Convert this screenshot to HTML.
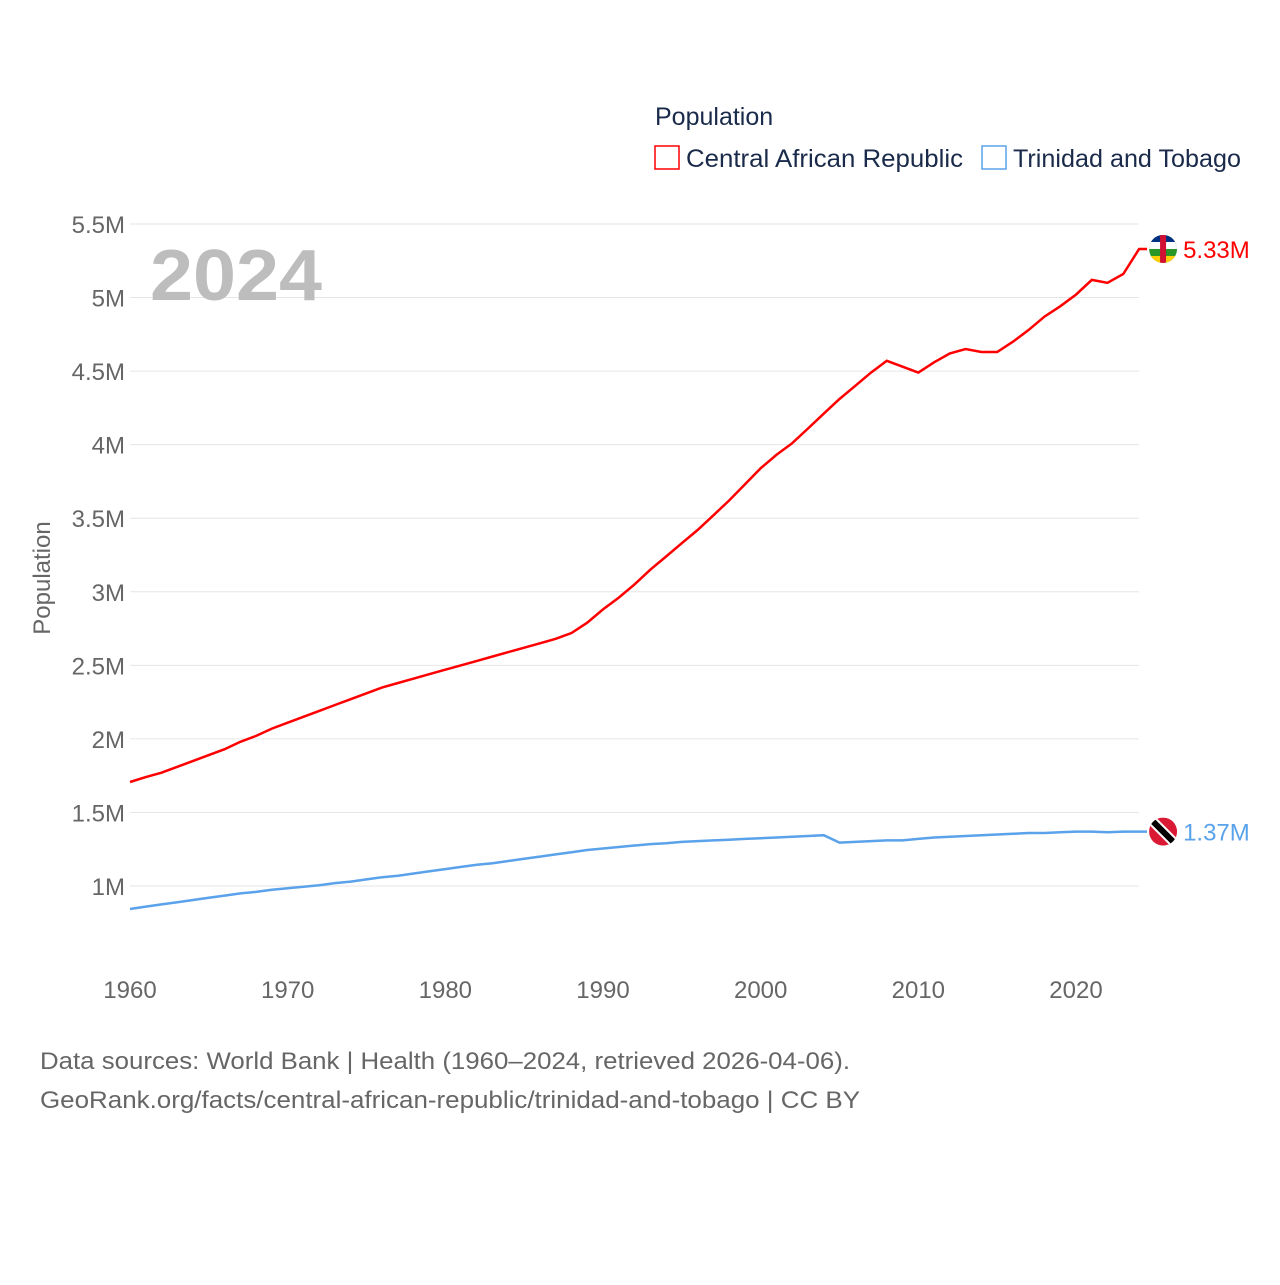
<!DOCTYPE html>
<html><head><meta charset="utf-8"><style>
body{margin:0;background:#fff;}
svg text{font-family:"Liberation Sans",sans-serif;}
</style></head><body>
<svg id="chart" width="1280" height="1280" xmlns="http://www.w3.org/2000/svg">
<rect width="1280" height="1280" fill="#fff"/>
<g id="grid"></g>
<text x="150" y="300" font-size="72" font-weight="bold" fill="#bdbdbd" textLength="172" lengthAdjust="spacingAndGlyphs">2024</text>
<g id="yticks"></g>
<g id="xticks"></g>
<text transform="translate(50,578) rotate(-90)" text-anchor="middle" font-size="24" fill="#666">Population</text>
<text x="655" y="125" font-size="25" fill="#1a2a4a">Population</text>
<rect x="655" y="146" width="24" height="23" fill="none" stroke="#ff0000" stroke-width="1.5"/>
<text x="686" y="167" font-size="25" fill="#1a2a4a" textLength="277" lengthAdjust="spacingAndGlyphs">Central African Republic</text>
<rect x="982" y="146" width="24" height="23" fill="none" stroke="#5aa2ea" stroke-width="1.5"/>
<text x="1013" y="167" font-size="25" fill="#1a2a4a" textLength="228" lengthAdjust="spacingAndGlyphs">Trinidad and Tobago</text>
<g id="series"></g>
<text x="40" y="1069" font-size="24" fill="#666" textLength="810" lengthAdjust="spacingAndGlyphs">Data sources: World Bank | Health (1960–2024, retrieved 2026-04-06).</text>
<text x="40" y="1108" font-size="24" fill="#666" textLength="820" lengthAdjust="spacingAndGlyphs">GeoRank.org/facts/central-african-republic/trinidad-and-tobago | CC BY</text>
</svg>
<script>
const years=[];for(let y=1960;y<=2024;y++)years.push(y);
const carValues=[1.707,1.74,1.77,1.81,1.85,1.89,1.93,1.98,2.02,2.07,2.11,2.15,2.19,2.23,2.27,2.31,2.35,2.38,2.41,2.44,2.47,2.50,2.53,2.56,2.59,2.62,2.65,2.68,2.72,2.79,2.88,2.96,3.05,3.15,3.24,3.33,3.42,3.52,3.62,3.73,3.84,3.93,4.01,4.11,4.21,4.31,4.40,4.49,4.57,4.53,4.49,4.56,4.62,4.65,4.63,4.63,4.70,4.78,4.87,4.94,5.02,5.12,5.10,5.16,5.33];
const ttValues=[0.844,0.86,0.875,0.89,0.905,0.92,0.935,0.95,0.96,0.975,0.985,0.995,1.005,1.02,1.03,1.045,1.06,1.07,1.085,1.10,1.115,1.13,1.145,1.155,1.17,1.185,1.20,1.215,1.23,1.245,1.255,1.265,1.275,1.285,1.29,1.30,1.305,1.31,1.315,1.32,1.325,1.33,1.335,1.34,1.345,1.295,1.30,1.305,1.31,1.31,1.32,1.33,1.335,1.34,1.345,1.35,1.355,1.36,1.36,1.365,1.37,1.37,1.365,1.37,1.37];
const yTicks=[1,1.5,2,2.5,3,3.5,4,4.5,5,5.5];
const yTickLabels=["1M","1.5M","2M","2.5M","3M","3.5M","4M","4.5M","5M","5.5M"];
const xTicks=[1960,1970,1980,1990,2000,2010,2020];
const endLabels=["5.33M","1.37M"];
const NS="http://www.w3.org/2000/svg";
const X=y=>130+(y-1960)*946/60;
const Y=v=>886-(v-1)*147.12;
function mk(tag,attrs,parent){const e=document.createElementNS(NS,tag);for(const k in attrs)e.setAttribute(k,attrs[k]);parent.appendChild(e);return e;}
const svg=document.getElementById('chart');
const defs=mk('defs',{},svg);
const grid=document.getElementById('grid'),yt=document.getElementById('yticks'),xt=document.getElementById('xticks'),ser=document.getElementById('series');
yTicks.forEach((v,i)=>{
 const l=mk('line',{x1:130,x2:1139,y1:Y(v),y2:Y(v),stroke:'#e6e6e6','stroke-width':1},grid);
 
 
 const t=mk('text',{x:125,y:Y(v)+9,'text-anchor':'end','font-size':24,fill:'#666'},yt);
 t.textContent=yTickLabels[i];
 
 
});
xTicks.forEach(v=>{
 const t=mk('text',{x:X(v),y:998,'text-anchor':'middle','font-size':24,fill:'#666'},xt);
 t.textContent=v;
 
 
});
function series(vals,color,name,label,flag){
 let d=vals.map((v,i)=>(i?'L':'M')+X(years[i]).toFixed(1)+','+Y(v).toFixed(1)).join(' ');
 const last=vals[vals.length-1];
 d+=' L'+(X(2024)+8)+','+Y(last).toFixed(1);
 const p=mk('path',{d:d,fill:'none',stroke:color,'stroke-width':2.5},ser);
 
 
 const cx=X(2024)+24,cy=Y(last);
 const cp=mk('clipPath',{id:'clip-'+name},defs);
 mk('circle',{cx:cx,cy:cy,r:14},cp);
 const g=mk('g',{'clip-path':'url(#clip-'+name+')'},ser);
 
 
 if(flag==='car'){
  mk('rect',{x:cx-14,y:cy-14,width:28,height:28,fill:'#289728'},g);
  mk('rect',{x:cx-14,y:cy-14,width:28,height:7,fill:'#003082'},g);
  mk('rect',{x:cx-14,y:cy-7,width:28,height:7,fill:'#fff'},g);
  mk('rect',{x:cx-14,y:cy+7,width:28,height:7,fill:'#ffce00'},g);
  mk('rect',{x:cx-3,y:cy-14,width:6,height:28,fill:'#d21034'},g);
 }else{
  mk('rect',{x:cx-14,y:cy-14,width:28,height:28,fill:'#da1a35'},g);
  mk('line',{x1:cx-14,y1:cy-14,x2:cx+14,y2:cy+14,stroke:'#fff','stroke-width':10},g);
  mk('line',{x1:cx-14,y1:cy-14,x2:cx+14,y2:cy+14,stroke:'#000','stroke-width':6},g);
 }
 const t=mk('text',{x:cx+20,y:cy+9,'font-size':24,fill:color},ser);
 t.textContent=label;
 
 
}
series(carValues,'#ff0000','car',endLabels[0],'car');
series(ttValues,'#5aa2ea','tt',endLabels[1],'tt');
</script>
</body></html>
